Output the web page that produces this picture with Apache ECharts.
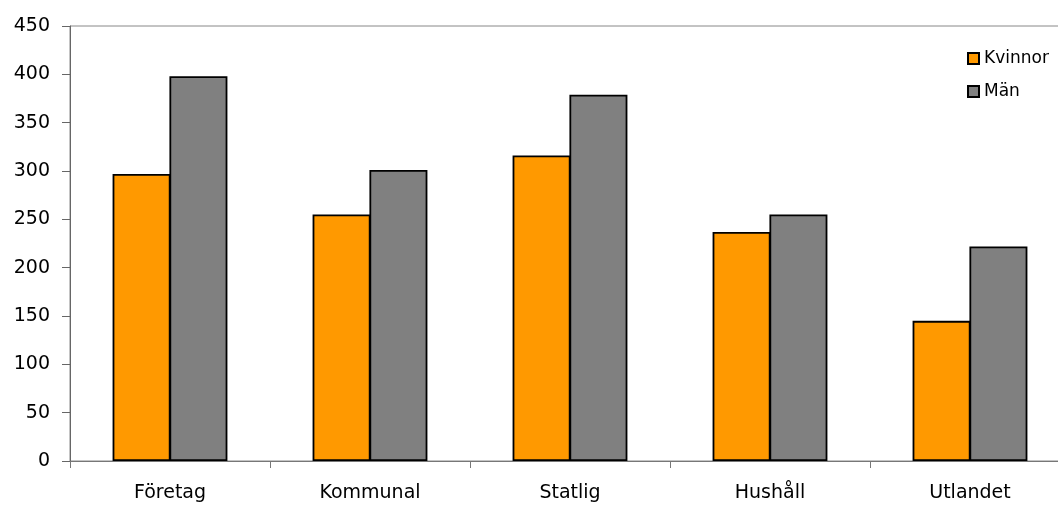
<!DOCTYPE html>
<html>
<head>
<meta charset="utf-8">
<script src="https://cdn.jsdelivr.net/npm/echarts@6/dist/echarts.min.js"></script>
<style>html,body{margin:0;padding:0;background:#fff;overflow:hidden}#c{width:1072px;height:505px}</style>
</head>
<body>
<div id="c"></div>
<script>
const categories = ['Företag', 'Kommunal', 'Statlig', 'Hushåll', 'Utlandet'];
const kvinnor = [297, 255, 316, 237, 145];
const man = [398, 301, 379, 255, 222];
const seriesNames = ['Kvinnor', 'Män'];

const chart = echarts.init(document.getElementById('c'));
const font = 'DejaVu Sans';
chart.setOption({
  animation: false,
  backgroundColor: '#fff',
  textStyle: { fontFamily: font },
  grid: { left: 70, top: 26, right: 2, bottom: 44, show: true, borderColor: '#888', borderWidth: 1 },
  legend: {
    orient: 'vertical', left: 962, top: 45,
    itemWidth: 11, itemHeight: 11, itemGap: 16,
    icon: 'rect',
    textStyle: { fontFamily: font, fontSize: 17, color: '#000' },
    data: seriesNames
  },
  xAxis: {
    type: 'category', data: categories,
    axisLine: { lineStyle: { color: '#777', width: 1 } },
    axisTick: { show: true, length: 7, lineStyle: { color: '#777' } },
    axisLabel: { fontFamily: font, fontSize: 19, color: '#000', margin: 23 }
  },
  yAxis: {
    type: 'value', min: 0, max: 450, interval: 50,
    splitLine: { show: false },
    axisLine: { show: true, lineStyle: { color: '#666', width: 1 } },
    axisTick: { show: true, length: 8, lineStyle: { color: '#666' } },
    axisLabel: { fontFamily: font, fontSize: 19, color: '#000', margin: 20 }
  },
  series: [
    { name: seriesNames[0], type: 'bar', data: kvinnor, barWidth: '29%', barGap: '-2%',
      itemStyle: { color: '#FF9900', borderColor: '#000', borderWidth: 1.8 } },
    { name: seriesNames[1], type: 'bar', data: man, barWidth: '29%', barGap: '-2%',
      itemStyle: { color: '#808080', borderColor: '#000', borderWidth: 1.8 } }
  ]
});
</script>
</body>
</html>
